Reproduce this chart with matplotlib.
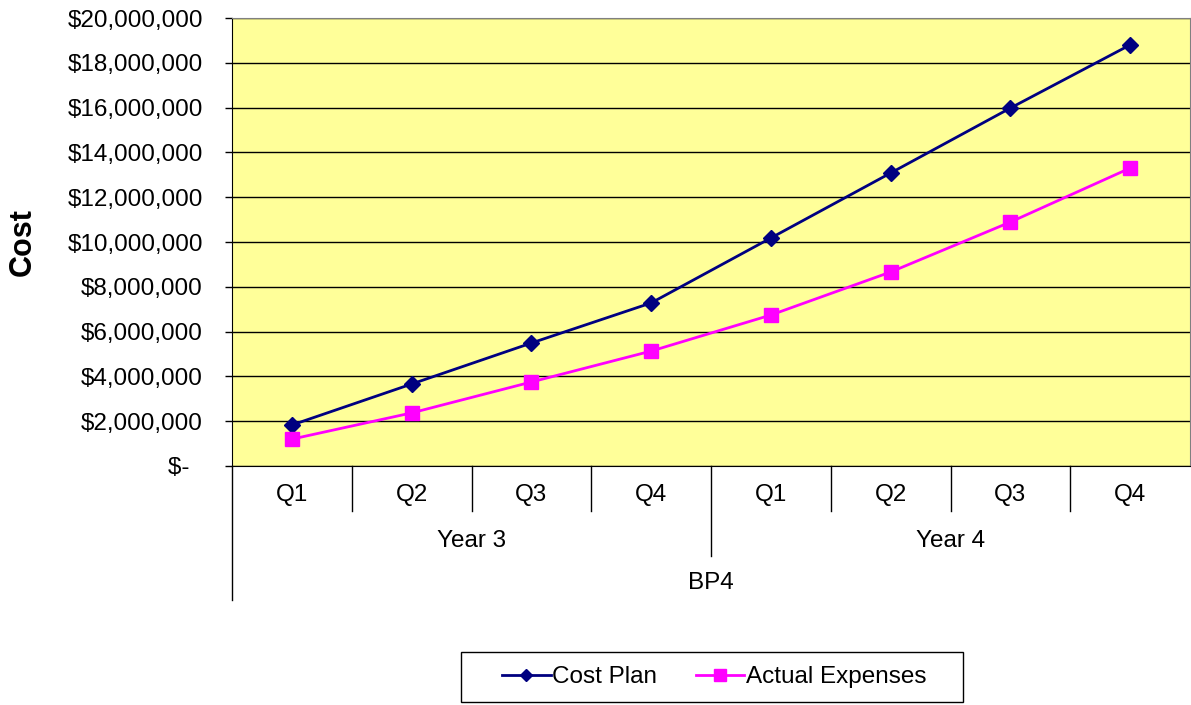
import matplotlib.pyplot as plt
from matplotlib.patches import Rectangle
from matplotlib.ticker import FuncFormatter
from matplotlib.transforms import blended_transform_factory

quarters = ['Q1', 'Q2', 'Q3', 'Q4', 'Q1', 'Q2', 'Q3', 'Q4']
years = ['Year 3', 'Year 4']
period = 'BP4'
cost_plan = [1830000, 3660000, 5490000, 7280000, 10180000, 13080000, 15980000, 18800000]
actual_expenses = [1200000, 2370000, 3750000, 5130000, 6740000, 8660000, 10890000, 13300000]

plt.rcParams['font.family'] = ['Liberation Sans', 'DejaVu Sans']

W, H = 1191, 705
fig = plt.figure(figsize=(W / 100, H / 100), dpi=100)
ax = fig.add_axes([232 / W, 1 - 466 / H, (1190 - 232) / W, 448 / H])
ax.set_facecolor('#FFFF99')

x = list(range(len(quarters)))
ax.plot(x, cost_plan, color='#000080', lw=2, marker='D', ms=8, label='Cost Plan')
ax.plot(x, actual_expenses, color='#FF00FF', lw=2, marker='s', ms=10, label='Actual Expenses')

ax.set_xlim(-0.5, len(quarters) - 0.5)
ax.set_ylim(0, 20000000)
ax.set_yticks(range(0, 20000001, 2000000))
ax.yaxis.set_major_formatter(FuncFormatter(lambda v, p: '$-  ' if v == 0 else f'${v:,.0f}'))
ax.tick_params(axis='y', labelsize=17.5, length=5, width=1, direction='out', pad=16)
ax.grid(axis='y', color='black', lw=1)
ax.set_axisbelow(True)
ax.set_xticks([])
fig.text(23 / W, 1 - 242 / H, 'Cost', rotation=90, ha='center', va='center',
         fontsize=22, fontweight='bold')

for side in ['top', 'right']:
    ax.spines[side].set_color('#808080')
for side in ['left', 'bottom']:
    ax.spines[side].set_color('black')

# hierarchical category axis
tr = blended_transform_factory(ax.transData, ax.transAxes)
for i, q in enumerate(quarters):
    ax.text(i, -0.065, q, transform=tr, ha='center', va='center', fontsize=17.5)
for b in [0.5, 1.5, 2.5, 4.5, 5.5, 6.5]:
    ax.plot([b, b], [0, -0.1], transform=tr, color='black', lw=1, clip_on=False)
ax.plot([3.5, 3.5], [0, -0.2], transform=tr, color='black', lw=1, clip_on=False)
ax.plot([-0.5, -0.5], [0, -0.3], transform=tr, color='black', lw=1, clip_on=False)
for j, yr in enumerate(years):
    ax.text(j * 4 + 1.5, -0.167, yr, transform=tr, ha='center', va='center', fontsize=17.5)
ax.text(3.5, -0.262, period, transform=tr, ha='center', va='center', fontsize=17.5)

# legend with a hand-drawn frame (wider padding than the legend frame allows)
fig.legend(loc='center', bbox_to_anchor=(714 / W, 1 - 677 / H), ncol=2,
           fontsize=17.5, frameon=False, handlelength=2.0, columnspacing=1.6,
           handletextpad=0.05, borderpad=0.5, borderaxespad=0, markerscale=0.8)
fig.patches.append(Rectangle((461 / W, 1 - 702 / H), (963 - 461) / W, 50 / H,
                             transform=fig.transFigure, fill=False,
                             edgecolor='black', lw=1))

fig.savefig('out.png', dpi=100)
